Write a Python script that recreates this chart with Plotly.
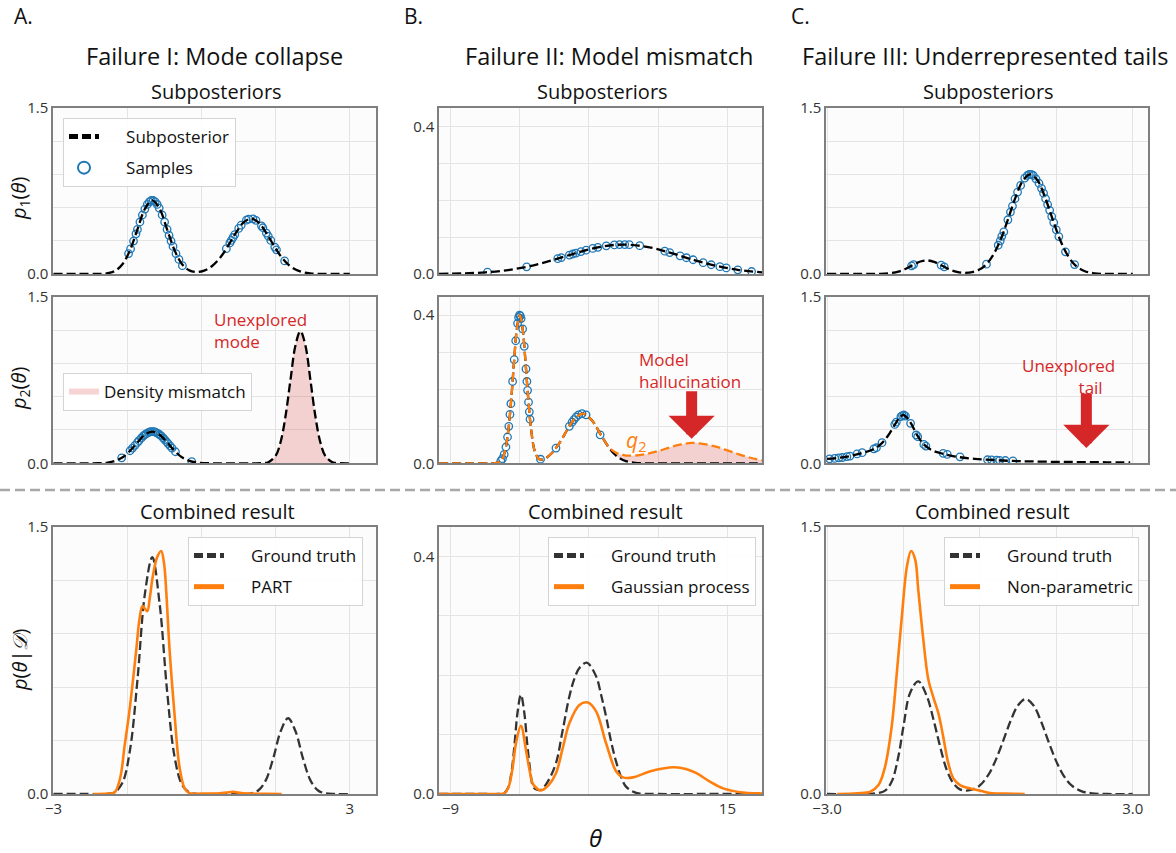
import plotly.graph_objects as go

W, H = 1176, 853

# ---------------- values ----------------
# Column A - Failure I: mode collapse
a1_x = [-3.0, -2.5, -2.1, -1.9, -1.75, -1.6, -1.45, -1.3, -1.15, -1.0, -0.85, -0.7, -0.55, -0.4, -0.25, -0.1,
        0.05, 0.2, 0.4, 0.55, 0.7, 0.85, 1.0, 1.15, 1.3, 1.45, 1.6, 1.75, 1.9, 2.05, 2.2, 2.4, 2.7, 3.0]
a1_p = [0, 0, 0.001, 0.007, 0.029, 0.090, 0.216, 0.403, 0.587, 0.665, 0.587, 0.403, 0.216, 0.091, 0.033, 0.018,
        0.031, 0.068, 0.162, 0.266, 0.377, 0.466, 0.5, 0.466, 0.377, 0.266, 0.162, 0.086, 0.040, 0.016, 0.006, 0.001, 0, 0]
a1_sx = [-1.48, -1.44, -1.38, -1.33, -1.3, -1.25, -1.2, -1.15, -1.1, -1.06, -1.02, -0.98, -0.94, -0.9, -0.86,
         -0.8, -0.75, -0.7, -0.66, -0.62, -0.58, -0.52, -0.46, -0.39,
         0.5, 0.57, 0.6, 0.635, 0.67, 0.75, 0.8, 0.906, 0.95, 1.04, 1.1, 1.21, 1.24, 1.31, 1.35, 1.4, 1.48, 1.515, 1.68]
a1_sy = [0.185, 0.227, 0.298, 0.363, 0.403, 0.470, 0.533, 0.587, 0.629, 0.652, 0.664, 0.664, 0.652, 0.629, 0.596,
         0.533, 0.470, 0.403, 0.350, 0.298, 0.249, 0.185, 0.132, 0.075,
         0.229, 0.281, 0.303, 0.330, 0.356, 0.412, 0.441, 0.486, 0.496, 0.498, 0.485, 0.435, 0.418, 0.370, 0.341,
         0.303, 0.243, 0.218, 0.118]

a2_x = [-3.0, -2.4, -2.1, -1.9, -1.75, -1.6, -1.45, -1.3, -1.15, -1.0, -0.85, -0.7, -0.55, -0.4, -0.25, -0.1,
        0.2, 0.6, 1.0, 1.2, 1.35, 1.5, 1.6, 1.7, 1.8, 1.9, 2.0, 2.1, 2.2, 2.3, 2.4, 2.5, 2.65, 2.8, 3.0]
a2_p = [0, 0, 0.001, 0.007, 0.022, 0.054, 0.113, 0.188, 0.257, 0.285, 0.257, 0.188, 0.113, 0.054, 0.022, 0.007,
        0, 0, 0, 0.001, 0.010, 0.070, 0.194, 0.430, 0.757, 1.063, 1.19, 1.063, 0.757, 0.430, 0.194, 0.070, 0.010, 0.001, 0]
a2_sx = [-1.62, -1.45, -1.4, -1.35, -1.3, -1.27, -1.22, -1.18, -1.15, -1.12, -1.08, -1.05, -1.02, -0.98, -0.95,
         -0.92, -0.88, -0.85, -0.82, -0.78, -0.75, -0.71, -0.68, -0.64, -0.6, -0.53, -0.2]
a2_sy = [0.049, 0.113, 0.137, 0.162, 0.188, 0.204, 0.228, 0.246, 0.257, 0.267, 0.277, 0.283, 0.285, 0.285, 0.283,
         0.277, 0.267, 0.257, 0.246, 0.228, 0.214, 0.194, 0.178, 0.157, 0.137, 0.104, 0.015]

a3_x = [-3.0, -2.3, -1.9, -1.75, -1.6, -1.45, -1.3, -1.15, -1.0, -0.85, -0.7, -0.55, -0.4, -0.25, -0.1, 0.3, 0.8,
        1.0, 1.15, 1.3, 1.45, 1.6, 1.75, 1.9, 2.05, 2.2, 2.35, 2.5, 2.7, 3.0]
a3_true = [0, 0, 0.001, 0.012, 0.065, 0.249, 0.64, 1.122, 1.329, 1.065, 0.578, 0.211, 0.053, 0.009, 0.001, 0, 0,
           0.004, 0.021, 0.078, 0.201, 0.352, 0.425, 0.352, 0.201, 0.078, 0.021, 0.004, 0, 0]
a3_part_x = [-2.2, -1.9, -1.76, -1.65, -1.56, -1.47, -1.39, -1.32, -1.26, -1.2, -1.15, -1.1, -1.05, -0.99, -0.9,
             -0.82, -0.76, -0.72, -0.65, -0.55, -0.45, -0.345, -0.24, 0.0, 0.3, 0.5, 0.64, 0.8, 1.0, 1.3, 1.62]
a3_part = [0, 0.002, 0.01, 0.09, 0.27, 0.45, 0.64, 0.82, 0.98, 1.054, 1.04, 1.026, 1.1, 1.22, 1.33,
           1.364, 1.29, 1.15, 0.81, 0.45, 0.154, 0.032, 0.004, 0.002, 0.003, 0.008, 0.012, 0.006, 0.002, 0.001, 0]

# Column B - Failure II: model mismatch
b1_x = [-10.0, -8, -6, -4, -2, 0, 2, 4, 6, 8, 10, 12, 14, 16, 18]
b1_p = [0.0004, 0.0016, 0.0045, 0.0108, 0.0222, 0.0389, 0.058, 0.0737, 0.0798, 0.0737, 0.058, 0.0389, 0.0222,
        0.0108, 0.0045]
b1_sx = [-5.8, -2.4, 0.29, 0.6, 1.3, 1.6, 1.88, 2.3, 2.75, 3.33, 3.77, 4.5, 5.2, 5.65, 6.1, 6.5, 7.4, 9.57, 10.0,
         10.9, 11.45, 12.03, 12.9, 13.6, 14.35, 14.9, 15.9, 17.1]
b1_sy = [0.0049, 0.0195, 0.0416, 0.0445, 0.0513, 0.0542, 0.0568, 0.0607, 0.0646, 0.0692, 0.0722, 0.0763, 0.0788,
         0.0797, 0.0798, 0.0794, 0.0768, 0.0619, 0.058, 0.0494, 0.0441, 0.0386, 0.0308, 0.0251, 0.0198, 0.0164,
         0.0113, 0.0068]

b2_x = [-10.0, -7, -5.5, -5.0, -4.6, -4.3, -4.0, -3.75, -3.5, -3.25, -3.0, -2.75, -2.5, -2.25, -2.0, -1.7, -1.3,
        -0.8, -0.3, 0.2, 0.7, 1.2, 1.7, 2.45, 3.2, 3.7, 4.2, 4.7, 5.2, 5.7, 6.2, 7.0, 8.0, 9.0, 10.0, 11.0, 11.9,
        13.0, 14.0, 15.0, 16.0, 17.0, 18.0]
b2_p = [0, 0, 0, 0.001, 0.008, 0.030, 0.086, 0.168, 0.272, 0.363, 0.4, 0.363, 0.273, 0.169, 0.088, 0.033, 0.011,
        0.013, 0.025, 0.044, 0.068, 0.095, 0.118, 0.134, 0.118, 0.095, 0.068, 0.044, 0.025, 0.013, 0.006, 0.001, 0,
        0, 0, 0, 0, 0, 0, 0, 0, 0, 0]
b2_q = [0, 0, 0, 0.001, 0.008, 0.030, 0.086, 0.168, 0.272, 0.363, 0.4, 0.363, 0.273, 0.169, 0.088, 0.033, 0.011,
        0.013, 0.025, 0.044, 0.068, 0.095, 0.118, 0.134, 0.118, 0.095, 0.068, 0.045, 0.031, 0.024, 0.021, 0.021,
        0.025, 0.033, 0.043, 0.051, 0.055, 0.052, 0.045, 0.035, 0.024, 0.015, 0.008]
b2_sx = [-4.64, -4.5, -4.35, -4.2, -4.06, -3.95, -3.85, -3.77, -3.62, -3.48, -3.35, -3.19, -3.1, -3.02, -2.95,
         -2.88, -2.75, -2.61, -2.46, -2.38, -2.32, -2.24, -2.17, -2.11,
         -1.2, 0.14, 1.3, 1.54, 1.7, 1.88, 2.1, 2.4, 2.75, 3.97]
b2_sy = [0.0064, 0.0126, 0.024, 0.044, 0.071, 0.100, 0.132, 0.161, 0.221, 0.280, 0.331, 0.378, 0.394, 0.4, 0.398,
         0.391, 0.363, 0.316, 0.255, 0.221, 0.197, 0.165, 0.139, 0.119,
         0.011, 0.041, 0.1, 0.111, 0.118, 0.125, 0.131, 0.134, 0.131, 0.077]

b3_x = [-10.0, -6, -4.8, -4.35, -4.0, -3.7, -3.45, -3.2, -2.9, -2.6, -2.35, -2.1, -1.85, -1.6, -1.16, -0.6, 0.14,
        0.7, 1.3, 1.75, 2.17, 2.81, 3.62, 4.05, 4.49, 4.9, 5.36, 5.8, 6.23, 7.1, 9, 13, 18]
b3_true = [0, 0, 0, 0.0014, 0.011, 0.039, 0.084, 0.136, 0.167, 0.136, 0.084, 0.041, 0.013, 0.008, 0.007, 0.02,
           0.052, 0.105, 0.164, 0.195, 0.212, 0.221, 0.198, 0.167, 0.130, 0.09, 0.054, 0.028, 0.012, 0.002, 0, 0, 0]
b3_gp_x = [-10.0, -6, -4.8, -4.35, -4.0, -3.65, -3.33, -2.9, -2.46, -2.15, -1.88, -1.5, -1.16, -0.5, 0.14, 0.7,
           1.3, 2.17, 2.9, 3.62, 4.49, 5.36, 5.94, 6.81, 8.26, 9.4, 10.43, 11.4, 12.32, 13.48, 14.64, 16.1, 17.8, 18]
b3_gp = [0, 0, 0, 0.001, 0.01, 0.04, 0.085, 0.115, 0.074, 0.04, 0.018, 0.009, 0.006, 0.015, 0.035, 0.075,
         0.119, 0.15, 0.154, 0.139, 0.085, 0.038, 0.028, 0.028, 0.038, 0.043, 0.045, 0.042, 0.035, 0.021, 0.0095,
         0.003, 0.001, 0.001]

# Column C - Failure III: underrepresented tails
c1_x = [-3.0, -2.3, -2.0, -1.8, -1.6, -1.45, -1.3, -1.15, -1.04, -0.9, -0.75, -0.6, -0.45, -0.3, -0.15, 0.0,
        0.13, 0.25, 0.4, 0.55, 0.7, 0.85, 0.99, 1.13, 1.28, 1.43, 1.58, 1.73, 1.88, 2.05, 2.25, 2.5, 3.0]
c1_p = [0, 0, 0.001, 0.005, 0.022, 0.048, 0.085, 0.115, 0.123, 0.110, 0.077, 0.042, 0.019, 0.011, 0.017, 0.042,
        0.089, 0.163, 0.303, 0.492, 0.692, 0.847, 0.9, 0.847, 0.692, 0.492, 0.303, 0.163, 0.076, 0.027, 0.006,
        0.001, 0]
c1_sx = [-1.34, -1.3, -0.76, -0.7, 0.13, 0.36, 0.4, 0.43, 0.47, 0.55, 0.6, 0.64, 0.69, 0.74, 0.8, 0.88, 0.93,
         0.97, 1.01, 1.05, 1.1, 1.16, 1.21, 1.25, 1.29, 1.33, 1.37, 1.41, 1.45, 1.5, 1.55, 1.68, 1.86]
c1_sy = [0.074, 0.085, 0.080, 0.065, 0.089, 0.26, 0.30, 0.34, 0.38, 0.49, 0.56, 0.614, 0.68, 0.74, 0.80, 0.867,
         0.89, 0.9, 0.9, 0.89, 0.86, 0.82, 0.774, 0.73, 0.68, 0.627, 0.575, 0.519, 0.465, 0.399, 0.338, 0.20, 0.085]

c2_x = [-3.0, -2.75, -2.5, -2.3, -2.1, -1.95, -1.8, -1.66, -1.57, -1.5, -1.43, -1.34, -1.24, -1.1, -0.95, -0.8,
        -0.6, -0.4, -0.1, 0.25, 0.65, 1.0, 1.5, 2.0, 2.5, 2.95]
c2_p = [0.039, 0.05, 0.07, 0.094, 0.125, 0.17, 0.25, 0.355, 0.415, 0.435, 0.41, 0.35, 0.26, 0.17, 0.12, 0.095,
        0.072, 0.055, 0.04, 0.03, 0.021, 0.017, 0.013, 0.011, 0.009, 0.008]
c2_sx = [-2.95, -2.85, -2.77, -2.7, -2.61, -2.55, -2.41, -2.31, -2.08, -2.03, -1.92, -1.67, -1.64, -1.55, -1.52,
         -1.49, -1.46, -1.36, -1.25, -1.22, -1.1, -1.06, -0.72, -0.64, -0.39, 0.15, 0.23, 0.33, 0.39, 0.5, 0.65]
c2_sy = [0.040, 0.044, 0.048, 0.052, 0.06, 0.065, 0.084, 0.096, 0.13, 0.14, 0.186, 0.35, 0.37, 0.42, 0.43, 0.435,
         0.425, 0.36, 0.255, 0.24, 0.17, 0.155, 0.09, 0.08, 0.058, 0.032, 0.03, 0.028, 0.027, 0.025, 0.021]

c3_x = [-3.0, -2.4, -2.1, -1.86, -1.73, -1.6, -1.5, -1.37, -1.21, -1.04, -0.91, -0.78, -0.65, -0.52, -0.39, -0.26,
        -0.13, 0.0, 0.16, 0.3, 0.45, 0.6, 0.75, 0.9, 1.05, 1.2, 1.35, 1.5, 1.65, 1.8, 2.0, 2.2, 2.5, 3.0]
c3_true = [0, 0, 0.002, 0.019, 0.07, 0.21, 0.379, 0.567, 0.632, 0.548, 0.417, 0.266, 0.135, 0.06, 0.026, 0.019,
           0.027, 0.048, 0.104, 0.183, 0.292, 0.408, 0.498, 0.533, 0.498, 0.408, 0.292, 0.183, 0.100, 0.048, 0.015,
           0.004, 0, 0]
c3_np_x = [-2.8, -2.4, -2.15, -1.99, -1.86, -1.73, -1.63, -1.53, -1.43, -1.35, -1.27, -1.21, -1.11, -1.01, -0.91,
           -0.815, -0.72, -0.62, -0.52, -0.39, -0.2, 0.0, 0.2, 0.5, 0.88]
c3_np = [0, 0.004, 0.013, 0.05, 0.154, 0.38, 0.68, 1.0, 1.28, 1.364, 1.317, 1.148, 0.867, 0.64, 0.54, 0.454,
         0.323, 0.173, 0.088, 0.05, 0.032, 0.019, 0.005, 0.002, 0]

# ---------------- styling ----------------
FONT = "Open Sans"
BLUE = "#1f77b4"
ORANGE = "#ff7f0e"
RED = "#d62728"
PINK = "rgba(214,39,40,0.2)"
DASH = "9px,4px"
NB = "\u00a0"


def px(x):
    return x / W


def py(y):
    return 1 - y / H


col_x = [(53, 376), (439, 762), (826, 1148)]
row_y = [(108, 274), (296.7, 463.3), (526.7, 794)]
x_ranges = [[-3.01, 3.53], [-10.0, 18.0], [-3.02, 3.3]]
x_grid = [[-3, -1.5, 0, 1.5, 3], [-9, -3, 3, 9, 15], [-3, -1.5, 0, 1.5, 3]]
x_text = [["\u22123", "", "", "", "3"], ["\u22129", "", "", "", "15"], ["\u22123.0", "", "", "", "3.0"]]
y_ranges = [[0, 1.5], [0, 0.45], [0, 1.5]]
y_grid = [[0, 0.3, 0.6, 0.9, 1.2, 1.5], [0, 0.1, 0.2, 0.3, 0.4], [0, 0.3, 0.6, 0.9, 1.2, 1.5]]
y_text = [["0.0", "", "", "", "", "1.5"], ["0.0", "", "", "", "0.4"], ["0.0", "", "", "", "", "1.5"]]

fig = go.Figure()
layout = {}


def axis_ids(r, c):
    k = r * 3 + c + 1
    s = "" if k == 1 else str(k)
    return "x" + s, "y" + s, "xaxis" + s, "yaxis" + s


for r in range(3):
    for c in range(3):
        xa, ya, xkey, ykey = axis_ids(r, c)
        common = dict(showgrid=True, gridcolor="#e4e4e4", gridwidth=1, zeroline=False, showline=True,
                      mirror=True, linecolor="#7f7f7f", linewidth=1.5, ticks="",
                      tickfont=dict(family=FONT, size=15, color="#333333"), fixedrange=True)
        layout[xkey] = dict(domain=[px(col_x[c][0]), px(col_x[c][1])], anchor=ya, range=x_ranges[c],
                            tickmode="array", tickvals=x_grid[c],
                            ticktext=x_text[c] if r == 2 else [""] * 5, **common)
        layout[ykey] = dict(domain=[py(row_y[r][1]), py(row_y[r][0])], anchor=xa, range=y_ranges[c],
                            tickmode="array", tickvals=y_grid[c], ticktext=y_text[c], **common)


def ax(r, c):
    xa, ya, _, _ = axis_ids(r, c)
    return dict(xaxis=xa, yaxis=ya)


SAMPLE_MARKER = dict(symbol="circle-open", size=7.5, color=BLUE, line=dict(width=1.3))


def samples(xs, ys, r, c):
    fig.add_trace(go.Scatter(x=xs, y=ys, mode="markers", marker=SAMPLE_MARKER, showlegend=False, **ax(r, c)))


def dashed(xs, ys, r, c, color="black", width=2.3):
    fig.add_trace(go.Scatter(x=xs, y=ys, mode="lines", line=dict(color=color, width=width, dash=DASH, shape="spline"),
                             showlegend=False, **ax(r, c)))


def solid(xs, ys, r, c):
    fig.add_trace(go.Scatter(x=xs, y=ys, mode="lines", line=dict(color=ORANGE, width=2.6, shape="spline"),
                             showlegend=False, **ax(r, c)))


def legend_entry(name, legend, group, r, c, **style):
    # legend-only proxy so that legend order does not dictate drawing order
    fig.add_trace(go.Scatter(x=[None], y=[None], name=NB * 5 + name, legend=legend, legendgroup=group,
                             showlegend=True, **style, **ax(r, c)))


# Column A
samples(a1_sx, a1_sy, 0, 0)
dashed(a1_x, a1_p, 0, 0)
legend_entry("Subposterior", "legend", "g1", 0, 0, mode="lines", line=dict(color="black", width=2.3, dash=DASH))
legend_entry("Samples", "legend", "g2", 0, 0, mode="markers", marker=SAMPLE_MARKER)

fill_idx = [i for i, v in enumerate(a2_x) if v >= 1.0]
fig.add_trace(go.Scatter(x=[a2_x[i] for i in fill_idx], y=[a2_p[i] for i in fill_idx], mode="none",
                         fill="tozeroy", fillcolor=PINK, line=dict(shape="spline"),
                         name="Density mismatch", legend="legend2", **ax(1, 0)))
samples(a2_sx, a2_sy, 1, 0)
dashed(a2_x, a2_p, 1, 0)

dashed(a3_x, a3_true, 2, 0, color="#333333")
solid(a3_part_x, a3_part, 2, 0)
legend_entry("Ground truth", "legend3", "g1", 2, 0, mode="lines", line=dict(color="#333333", width=2.3, dash=DASH))
legend_entry("PART", "legend3", "g2", 2, 0, mode="lines", line=dict(color=ORANGE, width=2.6))

# Column B
samples(b1_sx, b1_sy, 0, 1)
dashed(b1_x, b1_p, 0, 1)

tail_idx = [i for i, v in enumerate(b2_x) if v >= 4.7]
fig.add_trace(go.Scatter(x=[b2_x[i] for i in tail_idx], y=[b2_p[i] for i in tail_idx], mode="lines",
                         line=dict(width=0, shape="spline"), showlegend=False, **ax(1, 1)))
fig.add_trace(go.Scatter(x=[b2_x[i] for i in tail_idx], y=[b2_q[i] for i in tail_idx], mode="none",
                         fill="tonexty", fillcolor=PINK, line=dict(shape="spline"), showlegend=False, **ax(1, 1)))
samples(b2_sx, b2_sy, 1, 1)
dashed(b2_x, b2_p, 1, 1)
dashed(b2_x, b2_q, 1, 1, color=ORANGE)

dashed(b3_x, b3_true, 2, 1, color="#333333")
solid(b3_gp_x, b3_gp, 2, 1)
legend_entry("Ground truth", "legend4", "g1", 2, 1, mode="lines", line=dict(color="#333333", width=2.3, dash=DASH))
legend_entry("Gaussian process", "legend4", "g2", 2, 1, mode="lines", line=dict(color=ORANGE, width=2.6))

# Column C
samples(c1_sx, c1_sy, 0, 2)
dashed(c1_x, c1_p, 0, 2)
samples(c2_sx, c2_sy, 1, 2)
dashed(c2_x, c2_p, 1, 2)

dashed(c3_x, c3_true, 2, 2, color="#333333")
solid(c3_np_x, c3_np, 2, 2)
legend_entry("Ground truth", "legend5", "g1", 2, 2, mode="lines", line=dict(color="#333333", width=2.3, dash=DASH))
legend_entry("Non-parametric", "legend5", "g2", 2, 2, mode="lines", line=dict(color=ORANGE, width=2.6))


def legend_box(x_px, y_px):
    return dict(x=px(x_px), y=py(y_px), xanchor="left", yanchor="top", bgcolor="rgba(255,255,255,0.9)",
                bordercolor="#d4d4d4", borderwidth=1, font=dict(family=FONT, size=17, color="#111111"),
                itemsizing="constant", traceorder="grouped", tracegroupgap=6)


layout["legend"] = legend_box(63, 118)
layout["legend2"] = legend_box(63, 373)
layout["legend3"] = legend_box(188, 537)
layout["legend4"] = legend_box(548, 537)
layout["legend5"] = legend_box(944, 537)


def text(s, x_px, y_px, size, color="#111111", xanchor="center", yanchor="middle", align="center", **kw):
    return dict(text=s, x=px(x_px), y=py(y_px), xref="paper", yref="paper", showarrow=False,
                xanchor=xanchor, yanchor=yanchor, align=align, font=dict(family=FONT, size=size, color=color), **kw)


annotations = [
    text("A.", 12, 16, 21, xanchor="left"),
    text("B.", 402, 16, 21, xanchor="left"),
    text("C.", 789, 16, 21, xanchor="left"),
    text("Failure I: Mode collapse", 214, 56, 23.5),
    text("Failure II: Model mismatch", 609, 56, 23.5),
    text("Failure III: Underrepresented tails", 985, 56, 23.5),
    text("Subposteriors", 216, 91, 20),
    text("Subposteriors", 602, 91, 20),
    text("Subposteriors", 988, 91, 20),
    text("Combined result", 217, 512, 20),
    text("Combined result", 605, 512, 20),
    text("Combined result", 992, 512, 20),
    text("<i>p</i><sub>1</sub>(<i>θ</i>)", 19, 199, 20, textangle=-90),
    text("<i>p</i><sub>2</sub>(<i>θ</i>)", 19, 389, 20, textangle=-90),
    text("<i>p</i>(<i>θ</i>|<i>\U0001D49F</i>)", 19, 660, 20, textangle=-90),
    text("<i>θ</i>", 595, 837, 24),
    text("Unexplored<br>mode", 212, 306, 17, color=RED, xanchor="left", yanchor="top", align="left"),
    text("Model<br>hallucination", 637, 346, 17, color=RED, xanchor="left", yanchor="top", align="left"),
    text("Unexplored<br>" + NB * 10 + "tail", 1068, 352, 17, color=RED, yanchor="top"),
    text("<i>q</i><sub>2</sub>", 636, 441, 21, color=ORANGE),
    dict(x=11.9, y=0.066, xref="x5", yref="y5", text="", showarrow=True, ax=0, ay=-49,
         arrowhead=1, arrowwidth=11, arrowsize=0.7, arrowcolor=RED),
    dict(x=2.09, y=0.138, xref="x6", yref="y6", text="", showarrow=True, ax=0, ay=-56,
         arrowhead=1, arrowwidth=11, arrowsize=0.7, arrowcolor=RED),
]

shapes = [dict(type="line", xref="paper", yref="paper", x0=0, x1=1, y0=py(490), y1=py(490),
               line=dict(color="#a8a8a8", width=2.5, dash="10px,5px"))]

fig.update_layout(
    width=W, height=H,
    margin=dict(l=0, r=0, t=0, b=0, autoexpand=False),
    paper_bgcolor="white",
    plot_bgcolor="#fcfcfc",
    font=dict(family=FONT, color="#111111"),
    hovermode=False,
    annotations=annotations,
    shapes=shapes,
    **layout,
)

# drop the default 8px page margin so the figure sits at the window origin
fig.write_html("out.html", config={"displayModeBar": False},
               post_script="document.body.style.margin = '0';")
